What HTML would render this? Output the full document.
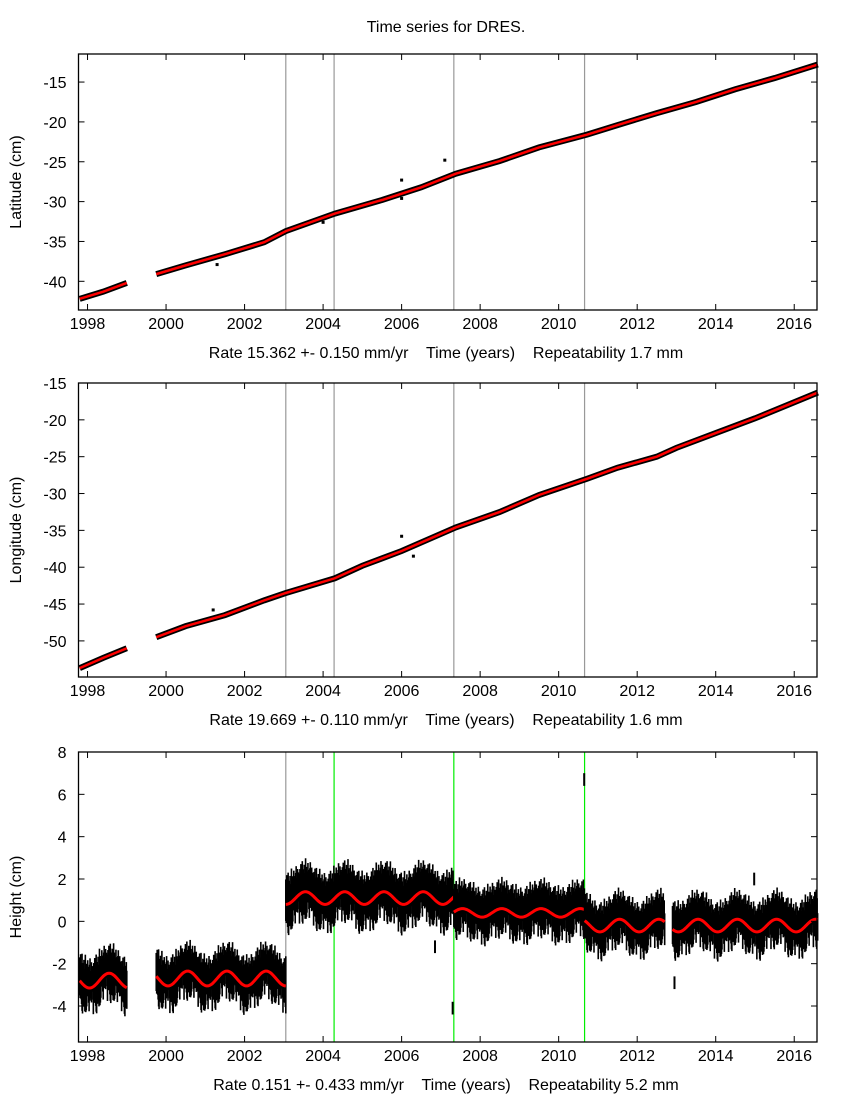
<!DOCTYPE html>
<html><head><meta charset="utf-8"><style>
body{margin:0;background:#fff;font-family:"Liberation Sans",sans-serif}
svg text{font-family:"Liberation Sans",sans-serif;font-size:16px;fill:#000;white-space:pre}
</style></head><body>
<svg id="c" width="850" height="1100" xmlns="http://www.w3.org/2000/svg">
<text x="446" y="32" text-anchor="middle">Time series for DRES.</text>
</svg>
<script>
const xTicks=[1998,2000,2002,2004,2006,2008,2010,2012,2014,2016];
const events=[2003.05,2004.28,2007.33,2010.66];
const latT=[1997.8,1998.4,1999.0,1999.75,2000.5,2001.5,2002.5,2003.05,2004.3,2005.5,2006.5,2007.38,2008.5,2009.5,2010.72,2011.5,2012.5,2013.5,2014.5,2015.5,2016.6];
const latV=[-42.2,-41.3,-40.2,-39.1,-38.0,-36.6,-35.1,-33.7,-31.5,-29.8,-28.2,-26.5,-24.9,-23.2,-21.6,-20.4,-18.9,-17.5,-15.9,-14.5,-12.8];
const latOut=[[2001.3,-37.9],[2007.1,-24.8],[2006.0,-27.3],[2004.0,-32.6],[2006.0,-29.6]];
const lonT=[1997.8,1998.4,1999.0,1999.75,2000.5,2001.5,2002.5,2003.05,2004.3,2005.0,2006.0,2007.38,2008.5,2009.5,2010.72,2011.5,2012.5,2013.0,2014.0,2015.0,2016.6];
const lonV=[-53.7,-52.3,-51.0,-49.5,-48.0,-46.5,-44.5,-43.5,-41.5,-39.8,-37.8,-34.6,-32.5,-30.2,-28.0,-26.5,-25.0,-23.8,-21.8,-19.8,-16.3];
const lonOut=[[2006.0,-35.8],[2006.3,-38.5],[2001.2,-45.8]];
const hSegStart=[1997.8,1999.75,2003.05,2007.33,2010.66,2012.9];
const hSegEnd=[1999.0,2003.05,2007.33,2010.66,2012.7,2016.6];
const hOffset=[-2.8,-2.7,1.1,0.4,-0.2,-0.2];
const hAmp=[0.35,0.35,0.3,0.2,0.3,0.3];
const hHalf=[1.0,1.0,1.1,1.0,1.0,1.0];
const hJit=[0.3,-0.2,0.5,0.1,-0.4,0.6,-0.1,0.2,-0.5,0.4,0.0,-0.3,0.7,-0.2,0.3,-0.6,0.1,0.5,-0.1,0.2,-0.4,0.3,0.6,-0.3,0.0,0.4,-0.5,0.2,0.1,-0.2];
const hOut=[[2010.65,6.7],[2007.3,-4.1],[2006.85,-1.2],[2014.98,2.0],[2012.95,-2.9],[2003.1,0.2]];
const svg=document.getElementById('c');const NS='http://www.w3.org/2000/svg';
const X0=78.5,X1=817,T0=1997.77,T1=2016.58;
const sx=t=>X0+(t-T0)/(T1-T0)*(X1-X0);
function el(tag,a,p){const e=document.createElementNS(NS,tag);for(const k in a)e.setAttribute(k,a[k]);(p||svg).appendChild(e);return e;}
function amp(t,a){return a*Math.sin(2*Math.PI*(t-0.30));}
function panel(name,top,bot,ymax,ymin,yTicks,ylabel,caption,draw,greens){
 const g=el('g',{});
 const sy=v=>top+(ymax-v)/(ymax-ymin)*(bot-top);
 events.forEach((e,i)=>{const l=el('line',{x1:sx(e),x2:sx(e),y1:top,y2:bot,stroke:(greens&&i>0)?'#00ee00':'#999','stroke-width':1.2},g);});
 draw(g,sy);
 const f=el('rect',{x:X0,y:top,width:X1-X0,height:bot-top,fill:'none',stroke:'#000','stroke-width':1.3},g);
 xTicks.forEach(t=>{const x=sx(t);el('line',{x1:x,x2:x,y1:bot,y2:bot-6,stroke:'#000'},g);el('line',{x1:x,x2:x,y1:top,y2:top+6,stroke:'#000'},g);
  const tx=el('text',{x:x,y:bot+19,'text-anchor':'middle'},g);tx.textContent=t;});
 yTicks.forEach(v=>{const y=sy(v);el('line',{x1:X0,x2:X0+6,y1:y,y2:y,stroke:'#000'},g);el('line',{x1:X1,x2:X1-6,y1:y,y2:y,stroke:'#000'},g);
  const tx=el('text',{x:X0-12,y:y+6,'text-anchor':'end'},g);tx.textContent=v;});
 const yl=el('text',{x:0,y:0,'text-anchor':'middle',transform:`translate(21,${(top+bot)/2}) rotate(-90)`},g);yl.textContent=ylabel;
 const cp=el('text',{x:446,y:bot+48,'text-anchor':'middle'},g);cp.textContent=caption;
}
function trend(T,V,out,gapA,gapB){return (g,sy)=>{
 [[0,T.findIndex(t=>t>=gapA)+1],[T.findIndex(t=>t>=gapB),T.length]].forEach(([a,b])=>{
  const pts=T.slice(a,b).map((t,i)=>sx(t)+','+sy(V[a+i])).join(' ');
  const k=el('polyline',{points:pts,fill:'none',stroke:'#000','stroke-width':6},g);
  const r=el('polyline',{points:pts,fill:'none',stroke:'#f00','stroke-width':2.5},g);});
 out.forEach(([t,v])=>{const r=el('rect',{x:sx(t)-1.5,y:sy(v)-1.5,width:3,height:3,fill:'#000'},g);});
};}
panel('latitude',54,310,-11.48,-43.6,[-15,-20,-25,-30,-35,-40],'Latitude (cm)','Rate 15.362 +- 0.150 mm/yr    Time (years)    Repeatability 1.7 mm',trend(latT,latV,latOut,1999.0,1999.75));
panel('longitude',383,677,-15,-54.9,[-15,-20,-25,-30,-35,-40,-45,-50],'Longitude (cm)','Rate 19.669 +- 0.110 mm/yr    Time (years)    Repeatability 1.6 mm',trend(lonT,lonV,lonOut,1999.0,1999.75));
panel('height',752,1042,8,-5.7,[8,6,4,2,0,-2,-4],'Height (cm)','Rate 0.151 +- 0.433 mm/yr    Time (years)    Repeatability 5.2 mm',(g,sy)=>{
 hSegStart.forEach((s,i)=>{let j=0;const step=0.012;
  for(let t=s;t<=hSegEnd[i];t+=step,j++){const c=hOffset[i]+amp(t,hAmp[i]);const jt=hJit[j%hJit.length];const jb=hJit[(j*7+3)%hJit.length];
   el('line',{x1:sx(t),x2:sx(t),y1:sy(c+hHalf[i]*0.8+jt),y2:sy(c-hHalf[i]*0.8+jb),stroke:'#000','stroke-width':1.6},g);}
  let pts=[];for(let t=s;t<=hSegEnd[i];t+=0.02)pts.push(sx(t)+','+sy(hOffset[i]+amp(t,hAmp[i])));
  const r=el('polyline',{points:pts.join(' '),fill:'none',stroke:'#f00','stroke-width':3},g);});
 hOut.forEach(([t,v])=>{const l=el('line',{x1:sx(t),x2:sx(t),y1:sy(v+0.3),y2:sy(v-0.3),stroke:'#000','stroke-width':2},g);});
},true);
</script>
</body></html>
